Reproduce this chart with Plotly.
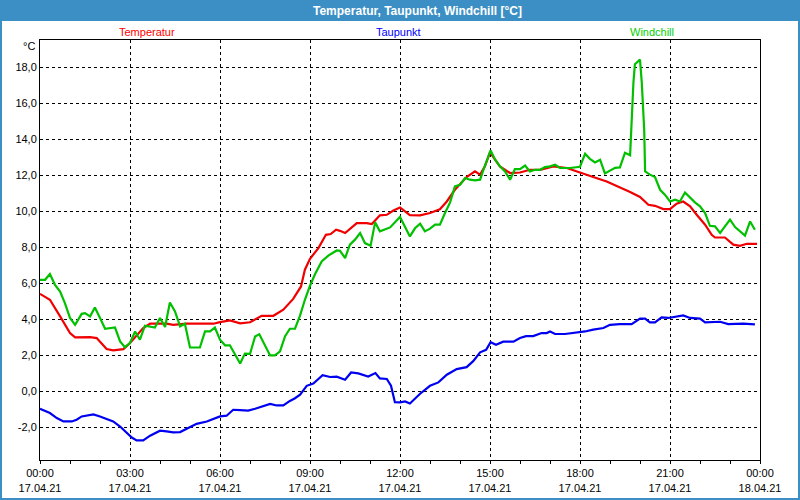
import pandas as pd
import plotly.graph_objects as go

# ---- data (hours after 17.04.21 00:00, values in °C) ----
temp_hours = [0.0, 0.33, 0.67, 1.0, 1.17, 1.44, 1.67, 1.89, 2.22, 2.44, 2.78, 3.0, 3.44, 3.67, 4.22, 4.44,
              4.89, 5.78, 6.0, 6.33, 6.67, 7.0, 7.39, 7.78, 8.11, 8.44, 8.7, 8.83, 9.0, 9.28, 9.53, 9.69,
              9.87, 10.0, 10.17, 10.56, 10.89, 11.06, 11.33, 11.56, 11.78, 12.0, 12.33, 12.67, 13.0, 13.33,
              13.56, 13.83, 14.0, 14.22, 14.5, 14.67, 14.83, 15.0, 15.33, 15.67, 16.0, 16.33, 16.67, 17.11,
              17.56, 18.0, 18.44, 18.89, 19.33, 19.67, 20.0, 20.28, 20.5, 20.78, 21.0, 21.22, 21.44, 21.67,
              21.89, 22.17, 22.39, 22.5, 22.83, 23.11, 23.33, 23.56, 23.9]
temp_values = [5.4, 5.07, 4.15, 3.22, 2.98, 3.0, 3.0, 2.94, 2.33, 2.26, 2.33, 2.67, 3.5, 3.74, 3.74, 3.68,
               3.74, 3.74, 3.83, 3.92, 3.76, 3.82, 4.18, 4.18, 4.52, 5.12, 5.81, 6.74, 7.35, 7.94, 8.68, 8.72,
               8.96, 8.9, 8.78, 9.33, 9.33, 9.28, 9.76, 9.79, 10.03, 10.2, 9.77, 9.76, 9.89, 10.1,
               10.53, 11.18, 11.5, 11.89, 12.2, 12.02, 12.48, 13.26, 12.48, 12.11, 12.14, 12.29, 12.29, 12.48,
               12.39, 12.12, 11.89, 11.64, 11.33, 11.06, 10.78, 10.35, 10.29, 10.11, 10.11, 10.41, 10.53, 10.26,
               9.79, 9.24, 8.68, 8.53, 8.53, 8.13, 8.07, 8.18, 8.18]

dew_hours = [0.0, 0.33, 0.56, 0.78, 1.06, 1.22, 1.39, 1.56, 1.78, 2.0, 2.22, 2.44, 2.67, 2.89, 3.06, 3.22,
             3.44, 3.67, 4.0, 4.22, 4.44, 4.67, 4.89, 5.22, 5.56, 5.78, 6.0, 6.22, 6.44, 6.67, 6.94, 7.17,
             7.44, 7.67, 7.89, 8.11, 8.33, 8.5, 8.67, 8.89, 9.11, 9.42, 9.67, 9.89, 10.17, 10.37, 10.61,
             10.94, 11.18, 11.33, 11.56, 11.7, 11.83, 12.0, 12.17, 12.33, 12.67, 13.0, 13.28, 13.56, 13.89,
             14.22, 14.44, 14.67, 14.87, 15.02, 15.2, 15.44, 15.78, 16.0, 16.2, 16.44, 16.72, 16.89, 17.0,
             17.17, 17.5, 17.83, 18.17, 18.44, 18.78, 19.0, 19.33, 19.72, 20.0, 20.17, 20.33, 20.5, 20.72,
             20.94, 21.22, 21.44, 21.67, 22.0, 22.17, 22.5, 22.67, 22.94, 23.22, 23.44, 23.83]
dew_values = [-0.98, -1.22, -1.5, -1.69, -1.69, -1.59, -1.41, -1.37, -1.3, -1.41, -1.54, -1.69, -1.97, -2.3,
              -2.58, -2.74, -2.74, -2.48, -2.2, -2.24, -2.3, -2.28, -2.09, -1.82, -1.69, -1.54, -1.41, -1.37,
              -1.04, -1.06, -1.09, -0.98, -0.84, -0.71, -0.8, -0.8, -0.55, -0.4, -0.2, 0.29, 0.42, 0.88, 0.78,
              0.8, 0.63, 1.03, 0.98, 0.81, 1.0, 0.7, 0.67, 0.3, -0.62, -0.63, -0.58, -0.69, -0.15, 0.29, 0.48,
              0.91, 1.22, 1.33, 1.66, 2.15, 2.29, 2.71, 2.57, 2.74, 2.74, 2.95, 3.05, 3.05, 3.22, 3.22, 3.31,
              3.17, 3.17, 3.22, 3.31, 3.41, 3.5, 3.68, 3.72, 3.72, 4.02, 4.02, 3.81, 3.81, 4.09,
              4.06, 4.15, 4.2, 4.06, 4.02, 3.81, 3.81, 3.85, 3.72, 3.74, 3.74, 3.7]

wc_hours = [0.0, 0.17, 0.33, 0.5, 0.67, 0.83, 1.0, 1.17, 1.39, 1.5, 1.67, 1.83, 2.0, 2.17, 2.5, 2.67, 2.83,
            3.0, 3.17, 3.33, 3.5, 3.83, 4.0, 4.17, 4.33, 4.5, 4.67, 4.83, 5.0, 5.33, 5.5, 5.67, 5.83, 6.0,
            6.17, 6.33, 6.67, 6.83, 7.0, 7.17, 7.31, 7.5, 7.67, 7.83, 8.0, 8.17, 8.33, 8.5, 8.67, 8.83, 9.0,
            9.17, 9.39, 9.61, 9.89, 10.0, 10.17, 10.33, 10.5, 10.67, 10.83, 11.02, 11.17, 11.33, 11.5, 11.67,
            12.0, 12.17, 12.33, 12.5, 12.67, 12.83, 13.0, 13.17, 13.33, 13.5, 13.67, 13.83, 14.0, 14.17,
            14.33, 14.5, 14.67, 14.78, 14.91, 15.02, 15.17, 15.33, 15.5, 15.67, 15.83, 16.0, 16.17, 16.33,
            16.5, 16.67, 16.83, 17.0, 17.17, 17.33, 17.67, 18.0, 18.17, 18.33, 18.5, 18.67, 18.83, 19.0,
            19.17, 19.33, 19.5, 19.67, 19.72, 19.78, 19.83, 20.0, 20.06, 20.11, 20.14, 20.17, 20.33, 20.5,
            20.67, 20.83, 21.0, 21.17, 21.33, 21.5, 21.67, 21.83, 22.0, 22.17, 22.33, 22.5, 22.67, 22.83,
            23.0, 23.17, 23.33, 23.5, 23.67, 23.83]
wc_values = [6.18, 6.18, 6.5, 5.9, 5.53, 4.89, 4.06, 3.68, 4.29, 4.33, 4.15, 4.64, 4.06, 3.46, 3.53, 2.76, 2.44,
             2.67, 3.31, 2.85, 3.63, 3.53, 4.06, 3.56, 4.92, 4.42, 3.59, 3.74, 2.42, 2.42, 3.31, 3.31, 3.53, 2.85,
             2.54, 2.54, 1.53, 2.08, 2.06, 3.03, 3.16, 2.57, 1.98, 1.98, 2.2, 3.05, 3.46, 3.46, 4.2, 5.07, 5.85,
             6.5, 7.2, 7.52, 7.81, 7.79, 7.39, 8.13, 8.41, 8.78, 8.22, 8.07, 9.37, 8.87, 8.96, 9.09,
             9.67, 9.1, 8.59, 9.04, 9.3, 8.87, 9.02, 9.24, 9.24, 9.89, 10.48, 11.37, 11.46, 11.83,
             11.74, 11.7, 11.74, 12.29, 12.94, 13.37, 12.85, 12.48, 12.2, 11.74, 12.33, 12.33, 12.53, 12.2,
             12.29, 12.29, 12.44, 12.48, 12.57, 12.39, 12.39, 12.46, 13.18, 12.9, 12.7, 12.85, 12.09, 12.24,
             12.4, 12.42, 13.24, 13.1, 15.07, 17.11, 18.15, 18.41, 17.11, 15.81, 14.52, 12.2, 12.02, 11.89,
             11.18, 10.91, 10.53, 10.63, 10.53, 11.03, 10.72, 10.48, 10.26, 9.89, 9.18, 9.15, 8.78, 9.15,
             9.52, 9.11, 8.87, 8.64, 9.42, 8.96]

y_tick_values = [-2, 0, 2, 4, 6, 8, 10, 12, 14, 16, 18]
y_tick_labels = ["-2,0", "0,0", "2,0", "4,0", "6,0", "8,0", "10,0", "12,0", "14,0", "16,0", "18,0"]

series_names = ["Temperatur", "Taupunkt", "Windchill"]
series_colors = ["#f00000", "#0000f0", "#00c000"]
label_colors = ["#ff0000", "#0000ff", "#00d000"]
chart_title = "Temperatur, Taupunkt, Windchill [°C]"
unit_label = "°C"

base = pd.Timestamp("2021-04-17 00:00")


def to_time(hours):
    return [base + pd.Timedelta(hours=h) for h in hours]


FONT = "Liberation Sans, Arial, sans-serif"
BLUE = "#3c8fc4"

fig = go.Figure()
for hours, vals, name, col in [
    (temp_hours, temp_values, series_names[0], series_colors[0]),
    (dew_hours, dew_values, series_names[1], series_colors[1]),
    (wc_hours, wc_values, series_names[2], series_colors[2]),
]:
    fig.add_trace(go.Scatter(x=to_time(hours), y=vals, name=name, mode="lines",
                             line=dict(color=col, width=2.2)))

W, H = 800, 500
L, R, T, B = 40, 40, 40, 40
pw, ph = W - L - R, H - T - B


def px_x(x):
    return (x - L) / pw


def px_y(y):
    return (H - B - y) / ph


fig.update_layout(
    width=W, height=H,
    margin=dict(l=L, r=R, t=T, b=B, autoexpand=False),
    paper_bgcolor="white", plot_bgcolor="white",
    showlegend=False,
    font=dict(family=FONT, size=11, color="black"),
    xaxis=dict(
        type="date",
        automargin=False,
        range=[base, base + pd.Timedelta(hours=24)],
        tick0=base, dtick=3 * 3600 * 1000,
        tickformat="%H:%M<br>%d.%m.%y",
        ticks="outside", ticklen=3, tickcolor="black",
        minor=dict(dtick=3600 * 1000, ticks="outside", ticklen=3, tickcolor="black", showgrid=False),
        showgrid=True, gridcolor="black", gridwidth=1, griddash="3px,3px",
        showline=True, linecolor="black", linewidth=1, mirror=True,
        zeroline=False,
        tickfont=dict(family=FONT, size=11),
    ),
    yaxis=dict(
        automargin=False,
        range=[-3.83, 19.5],
        tickvals=y_tick_values, ticktext=y_tick_labels,
        ticks="",
        showgrid=True, gridcolor="black", gridwidth=1, griddash="3px,3px",
        showline=True, linecolor="black", linewidth=1, mirror=True,
        zeroline=False,
        tickfont=dict(family=FONT, size=11),
    ),
    shapes=[
        dict(type="rect", xref="paper", yref="paper",
             x0=px_x(0), x1=px_x(W), y0=px_y(21), y1=px_y(0),
             fillcolor=BLUE, line=dict(width=0), layer="above"),
        dict(type="rect", xref="paper", yref="paper",
             x0=px_x(1), x1=px_x(W - 1), y0=px_y(H - 1), y1=px_y(1),
             fillcolor="rgba(0,0,0,0)", line=dict(color=BLUE, width=2), layer="above"),
    ],
    annotations=[
        dict(text="<b>" + chart_title + "</b>", xref="paper", yref="paper",
             x=px_x(417), y=px_y(10.5), xanchor="center", yanchor="middle", showarrow=False,
             font=dict(family=FONT, size=12, color="white")),
        dict(text=series_names[0], xref="paper", yref="paper", x=px_x(147), y=px_y(32),
             xanchor="center", yanchor="middle", showarrow=False,
             font=dict(family=FONT, size=11, color=label_colors[0])),
        dict(text=series_names[1], xref="paper", yref="paper", x=px_x(398), y=px_y(32),
             xanchor="center", yanchor="middle", showarrow=False,
             font=dict(family=FONT, size=11, color=label_colors[1])),
        dict(text=series_names[2], xref="paper", yref="paper", x=px_x(652), y=px_y(32),
             xanchor="center", yanchor="middle", showarrow=False,
             font=dict(family=FONT, size=11, color=label_colors[2])),
        dict(text=unit_label, xref="paper", yref="paper", x=px_x(37), y=px_y(46),
             xanchor="right", yanchor="middle", showarrow=False,
             font=dict(family=FONT, size=11, color="black")),
    ],
)

fig.write_html("out.html", config={"displayModeBar": False},
               post_script="document.body.style.margin='0';")
